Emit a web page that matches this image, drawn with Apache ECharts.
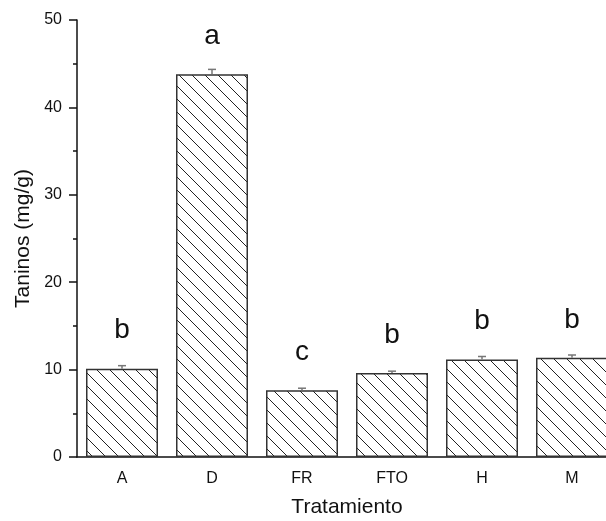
<!DOCTYPE html>
<html><head><meta charset="utf-8">
<script src="https://cdn.jsdelivr.net/npm/echarts@6/dist/echarts.min.js"></script>
<style>html,body{margin:0;padding:0;background:#fff}#c{width:606px;height:521px}</style>
</head><body><div id="c"></div>
<script>
const categories = ['A', 'D', 'FR', 'FTO', 'H', 'M'];
const values = [10.1, 43.8, 7.65, 9.6, 11.15, 11.35];
const errors = [0.35, 0.55, 0.22, 0.22, 0.35, 0.32];
const letters = ['b', 'a', 'c', 'b', 'b', 'b'];
const yTicks = [0, 10, 20, 30, 40, 50];

function hatch() {
  const s = 13;
  const c = document.createElement('canvas');
  c.width = s; c.height = s;
  const g = c.getContext('2d');
  g.fillStyle = '#fff'; g.fillRect(0, 0, s, s);
  g.strokeStyle = '#222'; g.lineWidth = 1;
  for (const o of [-s, 0, s]) {
    g.beginPath(); g.moveTo(o, 0); g.lineTo(o + s, s); g.stroke();
  }
  return c;
}

const chart = echarts.init(document.getElementById('c'));
const font = 'Liberation Sans, Arial, sans-serif';
chart.setOption({
  animation: false,
  grid: { left: 77, top: 20, right: -11, bottom: 64, outerBoundsMode: 'none', containLabel: false },
  xAxis: [{
    type: 'category', data: categories,
    name: 'Tratamiento', nameLocation: 'middle', nameGap: 40,
    nameTextStyle: { fontSize: 21, color: '#111', fontFamily: font },
    axisLine: { lineStyle: { color: '#111', width: 1.5 } },
    axisTick: { alignWithLabel: true, length: 8, lineStyle: { color: '#111', width: 1.5 } },
    axisLabel: { fontSize: 16, color: '#111', margin: 14, fontFamily: font }
  }, {
    type: 'category', data: categories, position: 'bottom',
    axisLine: { show: false },
    axisTick: { length: 4, lineStyle: { color: '#111', width: 1.5 } },
    axisLabel: { show: false }
  }],
  yAxis: {
    type: 'value', min: 0, max: 50, interval: 10,
    name: 'Taninos (mg/g)', nameLocation: 'middle', nameGap: 43, nameRotate: 90,
    nameTextStyle: { fontSize: 21, color: '#111', fontFamily: font },
    axisLine: { show: true, lineStyle: { color: '#111', width: 1.5 } },
    axisTick: { show: true, length: 8, lineStyle: { color: '#111', width: 1.5 } },
    minorTick: { show: true, splitNumber: 2, length: 4, lineStyle: { color: '#111', width: 1.5 } },
    splitLine: { show: false },
    axisLabel: { fontSize: 16, color: '#111', margin: 15, fontFamily: font,
      formatter: v => yTicks.includes(v) ? String(v) : '' }
  },
  series: [{
    type: 'bar', data: values, barCategoryGap: '20%', xAxisIndex: 0,
    itemStyle: { color: { image: hatch(), repeat: 'repeat' }, borderColor: '#333', borderWidth: 1.5 },
    label: { show: true, position: 'top', distance: 24, fontSize: 28, color: '#111', fontFamily: font,
      formatter: p => letters[p.dataIndex] },
    z: 2
  }, {
    type: 'custom', xAxisIndex: 0, z: 3,
    data: values.map((v, i) => [i, v, v + errors[i]]),
    renderItem: (params, api) => {
      const a = api.coord([api.value(0), api.value(1)]);
      const b = api.coord([api.value(0), api.value(2)]);
      const st = { stroke: '#777', lineWidth: 1.5 };
      return { type: 'group', children: [
        { type: 'line', shape: { x1: a[0], y1: a[1], x2: b[0], y2: b[1] }, style: st },
        { type: 'line', shape: { x1: b[0] - 4, y1: b[1], x2: b[0] + 4, y2: b[1] }, style: st }
      ] };
    }
  }]
});
</script></body></html>
